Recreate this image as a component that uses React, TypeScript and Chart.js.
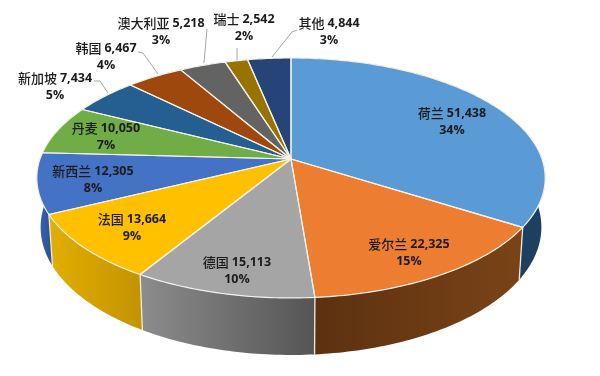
import React, { useEffect, useRef } from "react";
import { Chart, registerables } from "chart.js";

Chart.register(...registerables);

const countries = ["荷兰", "爱尔兰", "德国", "法国", "新西兰", "丹麦", "新加坡", "韩国", "澳大利亚", "瑞士", "其他"];
const amounts = [51438, 22325, 15113, 13664, 12305, 10050, 7434, 6467, 5218, 2542, 4844];
const amountLabels = ["51,438", "22,325", "15,113", "13,664", "12,305", "10,050", "7,434", "6,467", "5,218", "2,542", "4,844"];
const percents = ["34%", "15%", "10%", "9%", "8%", "7%", "5%", "4%", "3%", "2%", "3%"];
const topColors = ["#5b9bd5", "#ed7d31", "#a5a5a5", "#ffc000", "#4472c4", "#70ad47", "#255e91", "#9e480e", "#636363", "#997300", "#264478"];
const wallStart = ["#1d3f60", "#7a4317", "#8c8c8c", "#e2ae00", "#3a66b5", "#4d7a30", "#1a4268", "#6e320a", "#454545", "#6b5000", "#1a3054"];
const wallEnd = ["#1d3f60", "#5c3110", "#555555", "#c49400", "#2f5597", "#4d7a30", "#1a4268", "#6e320a", "#454545", "#6b5000", "#1a3054"];

// Layout of the text: centre of the first line of each label.
const labelCentres: [number, number][] = [
  [452, 113], [409, 244], [237, 262], [132, 219], [93, 171], [106, 128],
  [55, 78], [106, 48], [161, 23], [244, 19], [329, 23],
];
const leaders: [number, number][][] = [
  [[108, 93], [100, 81], [94, 81]],
  [[158, 74], [143, 53], [138, 52]],
  [[204, 63], [207, 29]],
  [[237, 60], [237, 48]],
  [[272, 57], [292, 32], [297, 30]],
];

// Perspective view of the pie disc.
const view = { cx: 291, cy: 159, rx: 251, ry: 117, k: 0.158, depth: 48, shrink: 0.985 };

function rim(a: number) {
  const w = 1 - view.k * Math.sin(a);
  const x = view.cx + (view.rx * Math.cos(a)) / w;
  const y = view.cy + (view.ry * Math.sin(a)) / w;
  return { x, y, bx: view.cx + (x - view.cx) * view.shrink, by: y + view.depth / w };
}

function samples(a0: number, a1: number) {
  const n = Math.max(2, Math.ceil((a1 - a0) * 60));
  const out: number[] = [];
  for (let i = 0; i <= n; i++) out.push(a0 + ((a1 - a0) * i) / n);
  return out;
}

const disc3d = {
  id: "disc3d",
  beforeDatasetDraw(chart: any) {
    const ctx: CanvasRenderingContext2D = chart.ctx;
    const arcs = chart.getDatasetMeta(0).data;
    ctx.save();
    // walls
    arcs.forEach((arc: any, i: number) => {
      const pts = samples(arc.startAngle, arc.endAngle).map(rim);
      const xs = pts.map((p) => p.x);
      const g = ctx.createLinearGradient(Math.min(...xs), 0, Math.max(...xs), 0);
      const leftFirst = i === 2 || i === 3 || i === 4;
      g.addColorStop(0, leftFirst ? wallStart[i] : wallEnd[i]);
      g.addColorStop(1, leftFirst ? wallEnd[i] : wallStart[i]);
      ctx.beginPath();
      pts.forEach((p, j) => (j ? ctx.lineTo(p.x, p.y) : ctx.moveTo(p.x, p.y)));
      [...pts].reverse().forEach((p) => ctx.lineTo(p.bx, p.by));
      ctx.closePath();
      ctx.fillStyle = g;
      ctx.fill();
    });
    // seams on the wall
    ctx.strokeStyle = "#efeadf";
    ctx.lineWidth = 1.3;
    arcs.forEach((arc: any) => {
      const p = rim(arc.startAngle);
      ctx.beginPath();
      ctx.moveTo(p.x, p.y);
      ctx.lineTo(p.bx, p.by);
      ctx.stroke();
    });
    // top faces
    ctx.lineJoin = "round";
    arcs.forEach((arc: any, i: number) => {
      ctx.beginPath();
      ctx.moveTo(view.cx, view.cy);
      samples(arc.startAngle, arc.endAngle).map(rim).forEach((p) => ctx.lineTo(p.x, p.y));
      ctx.closePath();
      ctx.fillStyle = topColors[i];
      ctx.fill();
    });
    arcs.forEach((arc: any) => {
      ctx.beginPath();
      ctx.moveTo(view.cx, view.cy);
      samples(arc.startAngle, arc.endAngle).map(rim).forEach((p) => ctx.lineTo(p.x, p.y));
      ctx.closePath();
      ctx.strokeStyle = "#f4f1e8";
      ctx.lineWidth = 1.2;
      ctx.stroke();
    });
    ctx.restore();
    return false;
  },
  afterDraw(chart: any) {
    const ctx: CanvasRenderingContext2D = chart.ctx;
    ctx.save();
    ctx.strokeStyle = "#a6a6a6";
    ctx.lineWidth = 1;
    leaders.forEach((line) => {
      ctx.beginPath();
      line.forEach(([x, y], j) => (j ? ctx.lineTo(x, y) : ctx.moveTo(x, y)));
      ctx.stroke();
    });
    ctx.fillStyle = "#1c1c1c";
    ctx.textBaseline = "middle";
    ctx.textAlign = "left";
    const nameFont = '500 13px "Noto Sans CJK SC"';
    const numFont = 'bold 12.5px "Open Sans"';
    countries.forEach((name, i) => {
      const [x, y] = labelCentres[i];
      ctx.font = nameFont;
      const nw = ctx.measureText(name).width;
      ctx.font = numFont;
      const vw = ctx.measureText(amountLabels[i]).width;
      const pw = ctx.measureText(percents[i]).width;
      const gap = 3;
      const left = x - (nw + gap + vw) / 2;
      ctx.font = nameFont;
      ctx.fillText(name, left, y);
      ctx.font = numFont;
      ctx.fillText(amountLabels[i], left + nw + gap, y);
      ctx.fillText(percents[i], x - pw / 2, y + 17);
    });
    ctx.restore();
  },
};

export default function App() {
  const ref = useRef<HTMLCanvasElement>(null);
  useEffect(() => {
    document.body.style.margin = "0";
    document.body.style.background = "#ffffff";
    const chart = new Chart(ref.current as HTMLCanvasElement, {
      type: "pie",
      data: {
        labels: countries,
        datasets: [{ data: amounts, backgroundColor: topColors, borderWidth: 0 }],
      },
      options: {
        animation: false,
        responsive: false,
        plugins: { legend: { display: false }, tooltip: { enabled: false } },
      },
      plugins: [disc3d],
    } as any);
    return () => chart.destroy();
  }, []);
  return <canvas ref={ref} width={600} height={376} style={{ display: "block" }} />;
}
